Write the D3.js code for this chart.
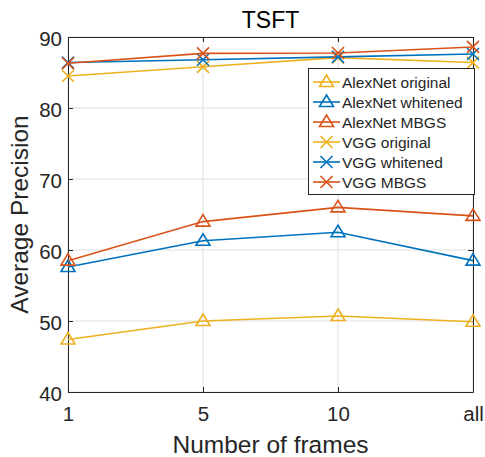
<!DOCTYPE html>
<html>
<head>
<meta charset="utf-8">
<script src="https://cdn.jsdelivr.net/npm/d3@7"></script>
<style>
  html, body { margin: 0; padding: 0; background: #fff; }
  svg { display: block; font-family: "Liberation Sans", Arial, sans-serif; }
</style>
</head>
<body>
<svg id="chart" width="485" height="457"></svg>
<script>
// Frame-count settings on the x axis
const frames = ["1", "5", "10", "all"];
const yTicks = [40, 50, 60, 70, 80, 90];

// Average precision per setting
const alexOriginal = [47.4, 50.0, 50.7, 49.9];
const alexWhitened = [57.6, 61.3, 62.5, 58.5];
const alexMBGS     = [58.5, 64.0, 66.0, 64.8];
const vggOriginal  = [84.5, 85.8, 87.1, 86.4];
const vggWhitened  = [86.4, 86.8, 87.2, 87.6];
const vggMBGS      = [86.3, 87.7, 87.75, 88.6];

const seriesNames = ["AlexNet original", "AlexNet whitened", "AlexNet MBGS",
                     "VGG original", "VGG whitened", "VGG MBGS"];

const colors = { yellow: "#EDB120", blue: "#0072BD", orange: "#D95319" };
const series = [
  { name: seriesNames[0], values: alexOriginal, color: colors.yellow, marker: "tri" },
  { name: seriesNames[1], values: alexWhitened, color: colors.blue,   marker: "tri" },
  { name: seriesNames[2], values: alexMBGS,     color: colors.orange, marker: "tri" },
  { name: seriesNames[3], values: vggOriginal,  color: colors.yellow, marker: "x" },
  { name: seriesNames[4], values: vggWhitened,  color: colors.blue,   marker: "x" },
  { name: seriesNames[5], values: vggMBGS,      color: colors.orange, marker: "x" }
];

const svg = d3.select("#chart");
const plotL = 68, plotR = 473, plotT = 37, plotB = 392;
const axisColor = "#262626";

const x = d3.scalePoint().domain(frames).range([plotL, plotR]);
const y = d3.scaleLinear().domain([40, 90]).range([plotB, plotT]);

// Grid
const grid = svg.append("g").attr("stroke", "#dfdfdf").attr("stroke-width", 1);
frames.forEach(f => grid.append("line")
  .attr("x1", x(f)).attr("x2", x(f)).attr("y1", plotT).attr("y2", plotB));
yTicks.forEach(t => grid.append("line")
  .attr("x1", plotL).attr("x2", plotR).attr("y1", y(t)).attr("y2", y(t)));

// Axes (ticks point inward)
const xAxis = svg.append("g").attr("transform", `translate(0,${plotB})`)
  .call(d3.axisBottom(x).tickSizeInner(-5).tickSizeOuter(0).tickPadding(14.5));
const yAxis = svg.append("g").attr("transform", `translate(${plotL},0)`)
  .call(d3.axisLeft(y).tickValues(yTicks).tickSizeInner(-5).tickSizeOuter(0).tickPadding(6));
[xAxis, yAxis].forEach(a => {
  a.select(".domain").attr("stroke", axisColor);
  a.selectAll(".tick line").attr("stroke", axisColor);
  a.selectAll(".tick text").attr("fill", axisColor).attr("font-size", 20.5)
    .attr("font-family", "Liberation Sans, Arial, sans-serif");
});
yAxis.selectAll(".tick text").attr("dy", "0.4em");
// Top and right box edges
svg.append("g").attr("transform", `translate(0,${plotT})`)
  .call(d3.axisTop(x).tickSizeInner(-5).tickSizeOuter(0).tickFormat(""))
  .call(g => { g.select(".domain").attr("stroke", axisColor); g.selectAll("line").attr("stroke", axisColor); });
svg.append("g").attr("transform", `translate(${plotR},0)`)
  .call(d3.axisRight(y).tickValues(yTicks).tickSizeInner(-5).tickSizeOuter(0).tickFormat(""))
  .call(g => { g.select(".domain").attr("stroke", axisColor); g.selectAll("line").attr("stroke", axisColor); });

// Marker paths
function markerPath(type, cx, cy) {
  if (type === "tri") {
    const w = 7;
    return `M${cx},${cy - 7}L${cx + w},${cy + 4.5}L${cx - w},${cy + 4.5}Z`;
  }
  const s = 6;
  return `M${cx - s},${cy - s}L${cx + s},${cy + s}M${cx - s},${cy + s}L${cx + s},${cy - s}`;
}

// Lines and markers
const line = d3.line().x((d, i) => x(frames[i])).y(d => y(d));
series.forEach(s => {
  const g = svg.append("g");
  g.append("path").attr("d", line(s.values)).attr("fill", "none")
    .attr("stroke", s.color).attr("stroke-width", 1.6);
  g.selectAll("path.m").data(s.values).join("path").attr("class", "m")
    .attr("d", (d, i) => markerPath(s.marker, x(frames[i]), y(d)))
    .attr("fill", "none").attr("stroke", s.color).attr("stroke-width", 1.6);
});

// Legend
const lg = svg.append("g");
lg.append("rect").attr("x", 308.5).attr("y", 68.5).attr("width", 166).attr("height", 126)
  .attr("fill", "#fff").attr("stroke", axisColor).attr("stroke-width", 1);
series.forEach((s, i) => {
  const cy = 82 + i * 20;
  lg.append("line").attr("x1", 313).attr("x2", 340).attr("y1", cy).attr("y2", cy)
    .attr("stroke", s.color).attr("stroke-width", 1.6);
  lg.append("path").attr("d", markerPath(s.marker, 326.5, cy))
    .attr("fill", "none").attr("stroke", s.color).attr("stroke-width", 1.6);
  lg.append("text").attr("x", 342).attr("y", cy).attr("dy", "0.36em")
    .attr("font-size", 15.5).attr("fill", axisColor).text(s.name);
});

// Titles
svg.append("text").attr("x", (plotL + plotR) / 2).attr("y", 28).attr("text-anchor", "middle")
  .attr("font-size", 23).attr("fill", "#000").text("TSFT");
svg.append("text").attr("x", (plotL + plotR) / 2).attr("y", 453).attr("text-anchor", "middle")
  .attr("font-size", 24.5).attr("fill", axisColor).text("Number of frames");
svg.append("text").attr("transform", `translate(28,${(plotT + plotB) / 2}) rotate(-90)`)
  .attr("text-anchor", "middle").attr("font-size", 24.5).attr("fill", axisColor)
  .text("Average Precision");
</script>
</body>
</html>
